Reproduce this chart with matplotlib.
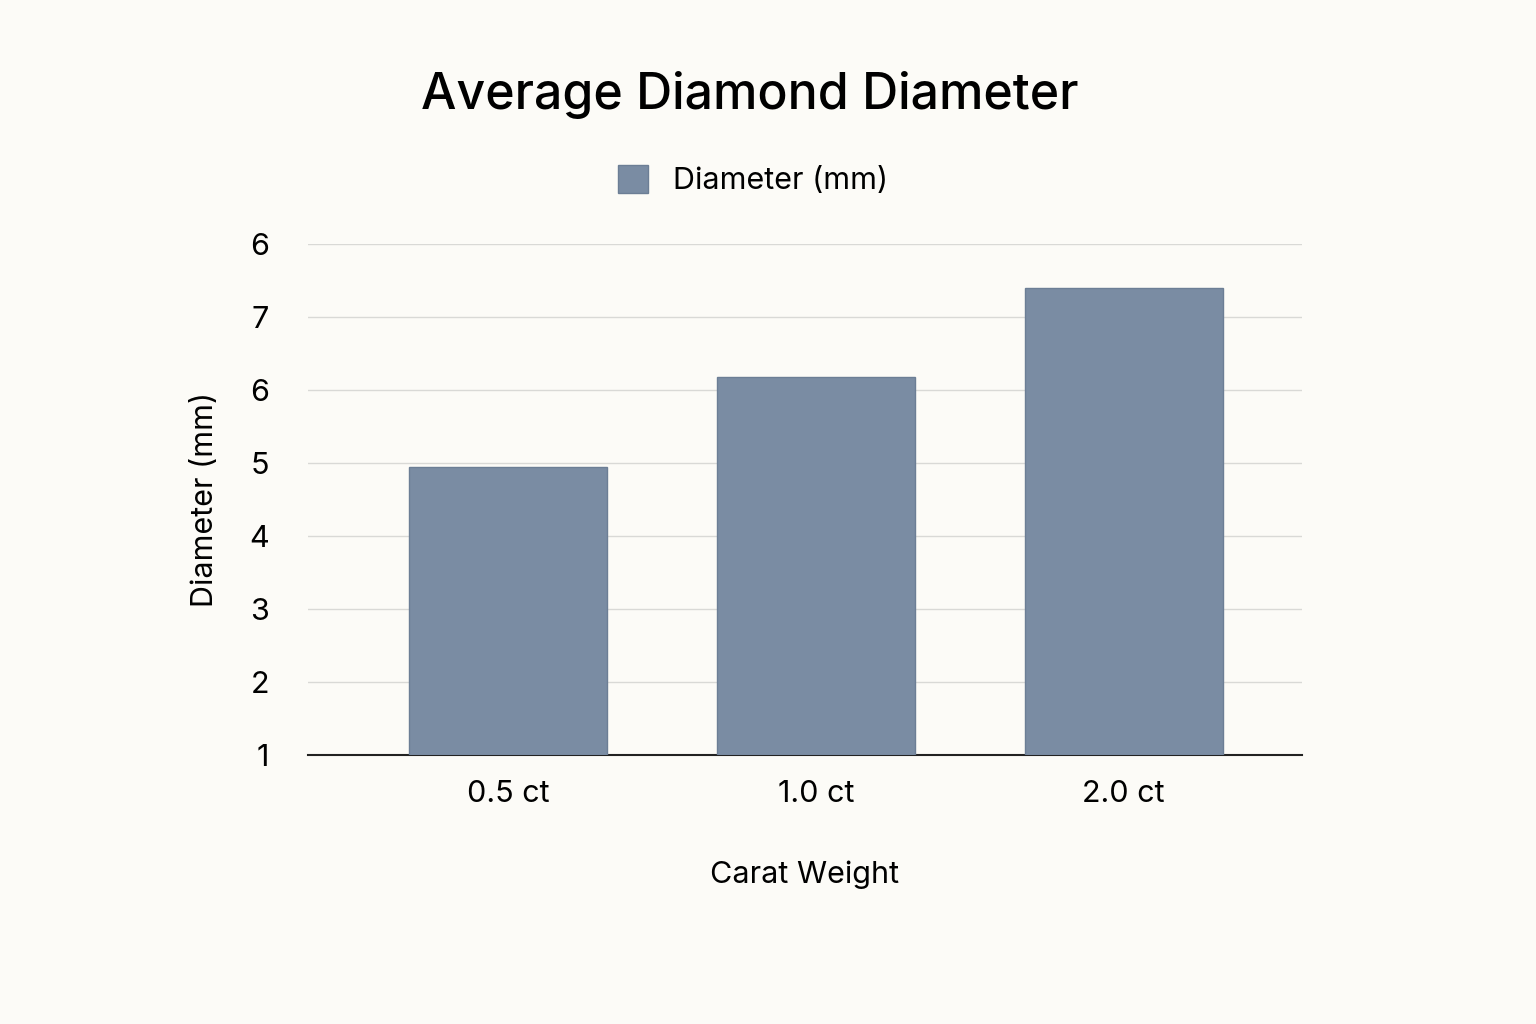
import matplotlib
matplotlib.use("Agg")
import matplotlib.pyplot as plt
from matplotlib.patches import Patch

plt.rcParams['font.family'] = ['Inter', 'DejaVu Sans']

categories = ["0.5 ct", "1.0 ct", "2.0 ct"]
diameters = [4.95, 6.18, 7.4]
ytick_vals = [1, 2, 3, 4, 5, 6, 7, 8]
ytick_labels = ["1", "2", "3", "4", "5", "6", "7", "6"]

bg = "#fcfbf7"
bar_color = "#7a8ca3"

fig = plt.figure(figsize=(15.36, 10.24), dpi=100, facecolor=bg)
ax = fig.add_axes([0.2005, 0.2627, 0.647, 0.499], facecolor=bg)
x = range(len(categories))
ax.bar(x, [d - 1 for d in diameters], bottom=1, width=0.643, color=bar_color,
       edgecolor="#6c7e95", linewidth=1, zorder=3)
ax.set_xlim(-0.649, 2.578)
ax.set_ylim(1, 8)
ax.set_yticks(ytick_vals)
ax.set_yticklabels(ytick_labels, fontsize=22)
ax.set_xticks(list(x))
ax.set_xticklabels(categories, fontsize=22)
ax.grid(axis='y', color="#d9d9d6", linewidth=1, zorder=0)
for s in ["top", "right", "left"]:
    ax.spines[s].set_visible(False)
ax.spines["bottom"].set_color("#222222")
ax.spines["bottom"].set_linewidth(1.5)
ax.tick_params(axis='both', length=0, pad=28)
ax.tick_params(axis='x', pad=18)
ax.set_xlabel("Carat Weight", fontsize=22, labelpad=38)
ax.set_ylabel("Diameter (mm)", fontsize=22, labelpad=22)

fig.text(0.488, 0.907, "Average Diamond Diameter", fontsize=36, fontweight='medium',
         ha='center', va='center')
fig.legend(handles=[Patch(facecolor=bar_color, edgecolor="#6c7e95", label="Diameter (mm)")],
           loc='center', bbox_to_anchor=(0.49, 0.824), frameon=False, fontsize=22,
           handlelength=1.0, handleheight=1.0)
fig.savefig("out.png", dpi=100, facecolor=bg)
